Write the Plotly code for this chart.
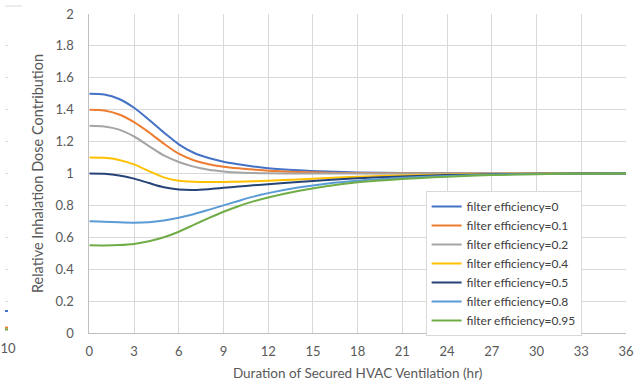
import plotly.graph_objects as go

# ---- data ----
hours = [0, 1, 2, 3, 4, 5, 6, 7, 8, 9, 10, 11, 12, 14, 16, 18, 21, 24, 27, 30, 33, 36]

eff_0 = [1.50, 1.495, 1.467, 1.412, 1.337, 1.257, 1.183, 1.13, 1.097, 1.074, 1.058, 1.044, 1.033,
         1.02, 1.012, 1.007, 1.003, 1.001, 1.0, 1.0, 1.0, 1.0]
eff_01 = [1.40, 1.395, 1.37, 1.322, 1.258, 1.187, 1.124, 1.083, 1.058, 1.043, 1.033, 1.025, 1.018,
          1.01, 1.005, 1.003, 1.001, 1.0, 1.0, 1.0, 1.0, 1.0]
eff_02 = [1.30, 1.295, 1.275, 1.232, 1.172, 1.113, 1.072, 1.043, 1.024, 1.013, 1.006, 1.003, 1.001,
          1.0, 1.0, 1.0, 1.0, 1.0, 1.0, 1.0, 1.0, 1.0]
eff_04 = [1.10, 1.098, 1.085, 1.057, 1.015, 0.976, 0.955, 0.948, 0.946, 0.947, 0.949, 0.952, 0.955,
          0.962, 0.972, 0.98, 0.988, 0.994, 0.997, 0.999, 1.0, 1.0]
eff_05 = [1.00, 0.998, 0.988, 0.968, 0.94, 0.914, 0.9, 0.897, 0.902, 0.91, 0.918, 0.926, 0.933,
          0.946, 0.96, 0.97, 0.981, 0.99, 0.995, 0.998, 1.0, 1.0]
eff_08 = [0.70, 0.698, 0.694, 0.692, 0.695, 0.706, 0.723, 0.745, 0.772, 0.80, 0.828, 0.855, 0.877,
          0.912, 0.938, 0.955, 0.973, 0.985, 0.993, 0.997, 0.999, 1.0]
eff_095 = [0.55, 0.549, 0.551, 0.558, 0.575, 0.60, 0.635, 0.678, 0.72, 0.76, 0.795, 0.825, 0.85,
           0.89, 0.922, 0.945, 0.966, 0.98, 0.99, 0.996, 0.999, 1.0]

series_names = ["filter efficiency=0", "filter efficiency=0.1", "filter efficiency=0.2",
                "filter efficiency=0.4", "filter efficiency=0.5", "filter efficiency=0.8",
                "filter efficiency=0.95"]
series_values = [eff_0, eff_01, eff_02, eff_04, eff_05, eff_08, eff_095]
colors = ["#4472C4", "#ED7D31", "#A5A5A5", "#FFC000", "#264478", "#5B9BD5", "#70AD47"]

x_ticks = [0, 3, 6, 9, 12, 15, 18, 21, 24, 27, 30, 33, 36]
y_ticks = [0, 0.2, 0.4, 0.6, 0.8, 1.0, 1.2, 1.4, 1.6, 1.8, 2.0]
y_tick_labels = ["0", "0.2", "0.4", "0.6", "0.8", "1", "1.2", "1.4", "1.6", "1.8", "2"]

# neighbouring (cropped) chart at the far left
left_x = [9.0, 10]
left_x_ticks = [10]
left_blue = [0.138, 0.138]
left_orange = [0.034, 0.034]
left_green = [0.022, 0.022]

FONT = "Lato"
TXT = "#595959"
GRID = "#D9D9D9"

fig = go.Figure()
for name, vals, c in zip(series_names, series_values, colors):
    fig.add_trace(go.Scatter(x=hours, y=vals, name=name, mode="lines",
                             line=dict(color=c, width=2, shape="spline", smoothing=0.8)))

for vals, c in [(left_blue, "#4472C4"), (left_orange, "#ED7D31"), (left_green, "#70AD47")]:
    fig.add_trace(go.Scatter(x=left_x, y=vals, mode="lines", xaxis="x2", yaxis="y2",
                             showlegend=False, line=dict(color=c, width=2), hoverinfo="skip"))

W = 641
ml, mr = 0, 15
pw = W - ml - mr
x0 = 85 / pw

fig.update_layout(
    width=W, height=383,
    margin=dict(l=ml, r=mr, t=14, b=50),
    paper_bgcolor="white", plot_bgcolor="white",
    font=dict(family=FONT, size=13, color=TXT),
    xaxis=dict(domain=[x0, 1], range=[0, 36], tickvals=x_ticks, showgrid=True, gridcolor=GRID,
               gridwidth=1, zeroline=False, showline=True, linecolor="#BFBFBF", linewidth=1,
               ticks="", ticklabelstandoff=6,
               title=dict(text="Duration of Secured HVAC Ventilation (hr)", font=dict(size=13.5),
                          standoff=10)),
    yaxis=dict(range=[0, 2], tickvals=y_ticks, ticktext=y_tick_labels, showgrid=True,
               gridcolor=GRID, gridwidth=1, zeroline=False, showline=True, linecolor="#BFBFBF",
               linewidth=1, ticks="", ticklabelstandoff=12,
               title=dict(text="Relative Inhalation Dose Contribution", font=dict(size=14.5),
                          standoff=8)),
    xaxis2=dict(domain=[0, 3 / pw], range=[9.0, 10.0], tickvals=left_x_ticks, showgrid=True,
                gridcolor=GRID, zeroline=False, showline=False, ticks="", ticklabelstandoff=6,
                ticklabeloverflow="allow", anchor="y2"),
    yaxis2=dict(range=[0, 2], tickvals=y_ticks, showticklabels=False, showgrid=True,
                gridcolor=GRID, zeroline=False, showline=False, anchor="x2"),
    legend=dict(x=(424 - ml) / pw, y=(333 - 191) / 319, xanchor="left", yanchor="top",
                bgcolor="white", bordercolor=GRID, borderwidth=1,
                font=dict(family=FONT, size=12, color="#404040"), itemwidth=30),
    shapes=[dict(type="line", xref="paper", yref="paper", x0=0, x1=17 / pw,
                 y0=1 + 8 / 319, y1=1 + 8 / 319, line=dict(color=GRID, width=1))],
    showlegend=True,
)

fig.write_html("out.html")
